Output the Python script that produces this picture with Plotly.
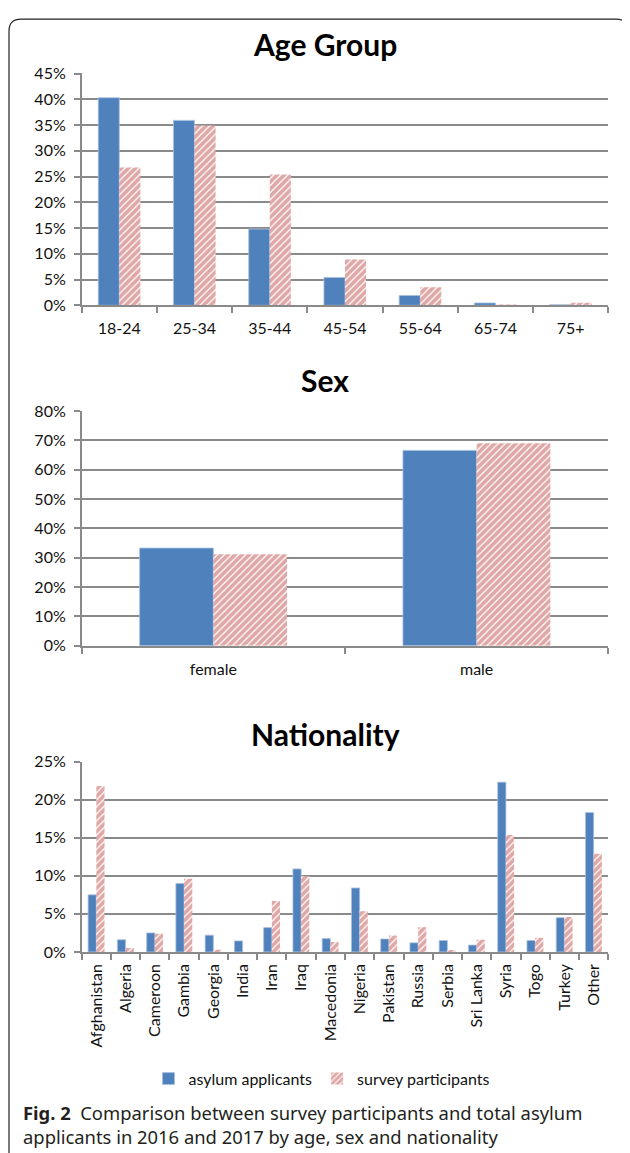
import plotly.graph_objects as go

# ---------------- data ----------------
age_groups = ["18-24", "25-34", "35-44", "45-54", "55-64", "65-74", "75+"]
age_applicants = [0.403, 0.359, 0.148, 0.054, 0.019, 0.0045, 0.001]
age_participants = [0.2675, 0.349, 0.254, 0.089, 0.035, 0.0015, 0.005]

sex_groups = ["female", "male"]
sex_applicants = [0.333, 0.666]
sex_participants = [0.312, 0.690]

nationalities = ["Afghanistan", "Algeria", "Cameroon", "Gambia", "Georgia", "India",
                 "Iran", "Iraq", "Macedonia", "Nigeria", "Pakistan", "Russia",
                 "Serbia", "Sri Lanka", "Syria", "Togo", "Turkey", "Other"]
nat_applicants = [0.075, 0.016, 0.025, 0.090, 0.022, 0.0145, 0.032, 0.109, 0.0175,
                  0.084, 0.017, 0.012, 0.015, 0.009, 0.223, 0.015, 0.045, 0.183]
nat_participants = [0.218, 0.005, 0.024, 0.096, 0.003, 0.0, 0.067, 0.0995, 0.013,
                    0.0535, 0.0215, 0.0325, 0.0025, 0.016, 0.1535, 0.0185, 0.046, 0.129]

series_names = ["asylum applicants", "survey participants"]
panel_titles = ["Age Group", "Sex", "Nationality"]
caption_bold = "Fig. 2"
caption_text = ("Comparison between survey participants and total asylum<br>"
                "applicants in 2016 and 2017 by age, sex and nationality")

# ---------------- styling ----------------
OFF = 8  # default body margin of the page
W, H = 622, 1153
BLUE = "#4f81bd"
RED = "#c0504d"
GRID = "#8a8a8a"
FONT = "Lato"


def px(x):
    return (x - OFF) / W


def py(y):
    # target page position -> paper fraction (empirically calibrated)
    t = (y - 10) / 0.983
    return 1 - (t - OFF) / H


fig = go.Figure()

panels = [
    (age_groups, age_applicants, age_participants, "x", "y"),
    (sex_groups, sex_applicants, sex_participants, "x2", "y2"),
    (nationalities, nat_applicants, nat_participants, "x3", "y3"),
]
for i, (cats, a, p, xa, ya) in enumerate(panels):
    fig.add_trace(go.Bar(
        x=cats, y=a, name=series_names[0], xaxis=xa, yaxis=ya,
        marker=dict(color=BLUE, line=dict(color="#a9c0dd", width=0.8)),
        showlegend=(i == 0), legendgroup="a",
    ))
    fig.add_trace(go.Bar(
        x=cats, y=p, name=series_names[1], xaxis=xa, yaxis=ya,
        marker=dict(color="white", line=dict(width=0),
                    pattern=dict(shape="/", fgcolor=RED, bgcolor="white",
                                 size=5, solidity=0.75)),
        showlegend=(i == 0), legendgroup="p",
    ))

x_left, x_right = px(81.7), px(608.3)
common_x = dict(type="category", showgrid=False, showline=True, linecolor=GRID,
                linewidth=1.5, ticks="outside", tickson="boundaries", ticklen=6,
                tickcolor=GRID, tickwidth=1.5,
                tickfont=dict(family=FONT, size=16, color="#111"))
common_y = dict(showgrid=True, gridcolor=GRID, gridwidth=1.6, showline=True,
                linecolor=GRID, linewidth=1.5, ticks="outside", ticklen=6,
                tickcolor=GRID, tickwidth=1.5, zeroline=False,
                tickformat=".0%", ticklabelstandoff=5,
                tickfont=dict(family=FONT, size=16, color="#111"))

fig.update_layout(
    width=W, height=H,
    margin=dict(l=0, r=0, t=0, b=0),
    paper_bgcolor="white", plot_bgcolor="white",
    barmode="group", bargap=0.44, bargroupgap=0,
    font=dict(family=FONT, color="#111"),
    xaxis=dict(domain=[x_left, x_right], anchor="y", ticklabelstandoff=8, **common_x),
    yaxis=dict(domain=[py(305), py(73.3)], anchor="x", range=[0, 0.4501], dtick=0.05, **common_y),
    xaxis2=dict(domain=[x_left, x_right], anchor="y2", ticklabelstandoff=8, **common_x),
    yaxis2=dict(domain=[py(645.3), py(410.7)], anchor="x2", range=[0, 0.8001], dtick=0.1, **common_y),
    xaxis3=dict(domain=[x_left, x_right], anchor="y3", tickangle=-90, ticklabelstandoff=4, **common_x),
    yaxis3=dict(domain=[py(951.3), py(761)], anchor="x3", range=[0, 0.2501], dtick=0.05, **common_y),
    legend=dict(orientation="h", x=px(322), xanchor="center", y=py(1078), yanchor="middle",
                font=dict(family=FONT, size=16, color="#111"), itemwidth=30,
                bgcolor="rgba(0,0,0,0)"),
)

# panel titles
for title, ty in zip(panel_titles, [44, 380, 733]):
    fig.add_annotation(text=f"<b>{title}</b>", x=px(325), y=py(ty), xref="paper", yref="paper",
                       xanchor="center", yanchor="middle", showarrow=False,
                       font=dict(family=FONT, size=30, color="#000"))

# caption
fig.add_annotation(text=f"<b>{caption_bold}</b>  {caption_text}", x=px(21), y=py(1097),
                   xref="paper", yref="paper", xanchor="left", yanchor="top",
                   align="left", showarrow=False,
                   font=dict(family="Noto Sans", size=18.4, color="#231f20"))

# rounded frame
L, T, R, B, r = 9, 19, 628, 1175, 12
path = (f"M {px(L)} {py(T + r)} Q {px(L)} {py(T)} {px(L + r)} {py(T)} "
        f"L {px(R - r)} {py(T)} Q {px(R)} {py(T)} {px(R)} {py(T + r)} "
        f"L {px(R)} {py(B - r)} Q {px(R)} {py(B)} {px(R - r)} {py(B)} "
        f"L {px(L + r)} {py(B)} Q {px(L)} {py(B)} {px(L)} {py(B - r)} Z")
fig.add_shape(type="path", path=path, xref="paper", yref="paper",
              line=dict(color="#222", width=1.2), fillcolor="rgba(0,0,0,0)", layer="below")

fig.write_html("out.html")
